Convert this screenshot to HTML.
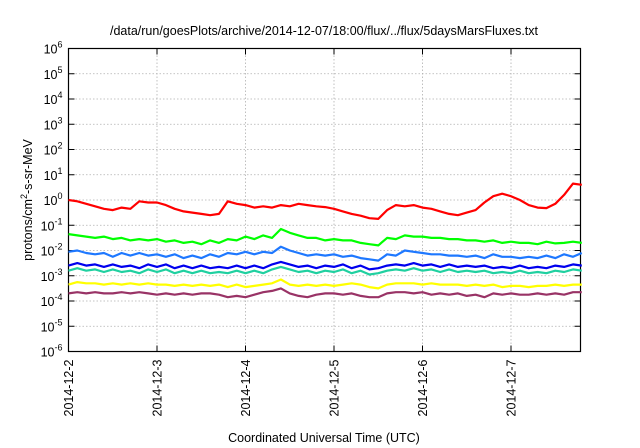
<!DOCTYPE html>
<html><head><meta charset="utf-8"><style>
html,body{margin:0;padding:0;background:#fff;width:640px;height:448px;overflow:hidden}
text{font-family:"Liberation Sans",sans-serif;fill:#000}
</style></head><body>
<svg id="chart" width="640" height="448" xmlns="http://www.w3.org/2000/svg">
<text x="324" y="35" font-size="12.5" text-anchor="middle">/data/run/goesPlots/archive/2014-12-07/18:00/flux/../flux/5daysMarsFluxes.txt</text>
<g id="grid"></g>
<g id="axes"></g>
<g id="series"></g>
<text transform="translate(32,200) rotate(-90)" font-size="12.5" text-anchor="middle">protons/cm<tspan dy="-5" font-size="9">2</tspan><tspan dy="5">-s-sr-MeV</tspan></text>
<text x="324" y="442" font-size="12.5" text-anchor="middle">Coordinated Universal Time (UTC)</text>
</svg>
<script>
const dayLabels=["2014-12-2","2014-12-3","2014-12-4","2014-12-5","2014-12-6","2014-12-7"];
const yExps=[-6,-5,-4,-3,-2,-1,0,1,2,3,4,5,6];
const sampleStep=0.1;
const red=[0,-0.05,-0.15,-0.25,-0.35,-0.4,-0.3,-0.35,-0.05,-0.1,-0.1,-0.2,-0.35,-0.45,-0.5,-0.55,-0.6,-0.55,-0.05,-0.15,-0.2,-0.3,-0.25,-0.3,-0.2,-0.25,-0.15,-0.2,-0.25,-0.28,-0.35,-0.45,-0.55,-0.62,-0.72,-0.75,-0.4,-0.2,-0.25,-0.2,-0.3,-0.35,-0.45,-0.55,-0.6,-0.5,-0.4,-0.1,0.15,0.25,0.15,0,-0.2,-0.3,-0.32,-0.15,0.2,0.65,0.6];
const green=[-1.35,-1.4,-1.45,-1.5,-1.45,-1.55,-1.5,-1.6,-1.55,-1.6,-1.55,-1.65,-1.6,-1.7,-1.65,-1.75,-1.6,-1.7,-1.55,-1.6,-1.45,-1.55,-1.4,-1.5,-1.15,-1.3,-1.4,-1.5,-1.5,-1.6,-1.55,-1.6,-1.6,-1.7,-1.75,-1.8,-1.5,-1.55,-1.4,-1.45,-1.45,-1.5,-1.5,-1.55,-1.55,-1.6,-1.6,-1.65,-1.6,-1.7,-1.65,-1.7,-1.7,-1.75,-1.65,-1.72,-1.7,-1.65,-1.7];
const blue=[-2.05,-2.0,-2.1,-2.15,-2.1,-2.25,-2.1,-2.2,-2.1,-2.2,-2.15,-2.25,-2.15,-2.3,-2.2,-2.3,-2.15,-2.25,-2.1,-2.15,-2.05,-2.15,-2.05,-2.1,-1.85,-2.0,-2.1,-2.2,-2.15,-2.2,-2.15,-2.25,-2.2,-2.3,-2.35,-2.4,-2.15,-2.2,-2.0,-2.05,-2.1,-2.15,-2.15,-2.2,-2.2,-2.25,-2.2,-2.3,-2.15,-2.25,-2.25,-2.3,-2.25,-2.3,-2.2,-2.3,-2.15,-2.25,-2.1];
const darkBlue=[-2.6,-2.5,-2.6,-2.55,-2.65,-2.55,-2.65,-2.6,-2.7,-2.55,-2.65,-2.55,-2.7,-2.6,-2.7,-2.6,-2.7,-2.65,-2.7,-2.6,-2.7,-2.6,-2.7,-2.55,-2.45,-2.55,-2.65,-2.6,-2.7,-2.6,-2.65,-2.55,-2.7,-2.6,-2.75,-2.7,-2.6,-2.55,-2.6,-2.5,-2.6,-2.55,-2.65,-2.55,-2.65,-2.6,-2.65,-2.6,-2.7,-2.65,-2.7,-2.6,-2.7,-2.65,-2.7,-2.6,-2.65,-2.55,-2.6];
const teal=[-2.8,-2.7,-2.8,-2.75,-2.85,-2.75,-2.85,-2.8,-2.9,-2.75,-2.85,-2.75,-2.9,-2.8,-2.9,-2.8,-2.9,-2.85,-2.9,-2.8,-2.9,-2.8,-2.9,-2.75,-2.65,-2.75,-2.85,-2.8,-2.9,-2.8,-2.85,-2.75,-2.9,-2.8,-2.95,-2.9,-2.8,-2.75,-2.8,-2.7,-2.8,-2.75,-2.85,-2.75,-2.85,-2.8,-2.85,-2.8,-2.9,-2.85,-2.9,-2.8,-2.9,-2.85,-2.9,-2.8,-2.85,-2.75,-2.8];
const yellow=[-3.35,-3.25,-3.3,-3.3,-3.35,-3.3,-3.35,-3.3,-3.35,-3.3,-3.35,-3.35,-3.4,-3.35,-3.4,-3.35,-3.4,-3.35,-3.45,-3.35,-3.45,-3.4,-3.35,-3.3,-3.15,-3.35,-3.4,-3.35,-3.4,-3.35,-3.4,-3.35,-3.3,-3.35,-3.45,-3.5,-3.35,-3.3,-3.3,-3.3,-3.35,-3.3,-3.35,-3.35,-3.35,-3.4,-3.35,-3.4,-3.35,-3.45,-3.4,-3.4,-3.45,-3.4,-3.4,-3.35,-3.4,-3.35,-3.35];
const purple=[-3.7,-3.65,-3.7,-3.65,-3.7,-3.7,-3.65,-3.7,-3.65,-3.7,-3.75,-3.7,-3.75,-3.7,-3.75,-3.7,-3.7,-3.75,-3.85,-3.8,-3.85,-3.75,-3.65,-3.6,-3.5,-3.7,-3.8,-3.85,-3.75,-3.7,-3.7,-3.75,-3.7,-3.8,-3.85,-3.85,-3.7,-3.65,-3.65,-3.7,-3.65,-3.75,-3.7,-3.75,-3.7,-3.8,-3.75,-3.85,-3.7,-3.75,-3.7,-3.75,-3.75,-3.7,-3.75,-3.7,-3.75,-3.65,-3.65];

const L=68.5,R=580.5,T=48.5,B=351.5,pxDay=88.5;
const NS="http://www.w3.org/2000/svg";
function xs(d){return L+d*pxDay;}
function ys(e){return B-(e-(-6))*(B-T)/12;}
function mk(tag,attrs,parent){const el=document.createElementNS(NS,tag);for(const k in attrs)el.setAttribute(k,attrs[k]);parent.appendChild(el);return el;}
const grid=document.getElementById('grid'),axes=document.getElementById('axes'),ser=document.getElementById('series');
yExps.forEach(e=>{const y=ys(e);
 if(e>-6&&e<6){const g=mk('line',{x1:L,x2:R,y1:y,y2:y,stroke:'#b0b0b0','stroke-width':0.8,'stroke-dasharray':'1.5,2'},grid);
 
 }
 const t1=mk('line',{x1:L,x2:L+6,y1:y,y2:y,stroke:'#000'},axes);
 
 
 const t2=mk('line',{x1:R-6,x2:R,y1:y,y2:y,stroke:'#000'},axes);
 
 
 const tx=mk('text',{x:L-6,y:y+5,'font-size':'12.5','text-anchor':'end'},axes);
 
 
 tx.textContent='10';const sp=mk('tspan',{dy:'-6','font-size':'9'},tx);sp.textContent=String(e);
});
dayLabels.forEach((lab,i)=>{const x=xs(i);
 if(i>0){const g=mk('line',{x1:x,x2:x,y1:T,y2:B,stroke:'#b0b0b0','stroke-width':0.8,'stroke-dasharray':'1.5,2'},grid);
 
 }
 const t1=mk('line',{x1:x,x2:x,y1:B,y2:B-6,stroke:'#000'},axes);
 
 
 const t2=mk('line',{x1:x,x2:x,y1:T,y2:T+6,stroke:'#000'},axes);
 
 
 const tx=mk('text',{transform:`translate(${x+4.5},${B+8}) rotate(-90)`,'font-size':'12.5','text-anchor':'end'},axes);
 
 
 tx.textContent=lab;
});
const fr=mk('rect',{x:L,y:T,width:R-L,height:B-T,fill:'none',stroke:'#000','stroke-width':1.2},axes);


const list=[[purple,'#993366','purple-series'],[yellow,'#ffff00','yellow-series'],[teal,'#20d0a0','teal-series'],[darkBlue,'#0000ee','dark-blue-series'],[blue,'#1e78ff','blue-series'],[green,'#00ff00','green-series'],[red,'#ff0000','red-series']];
list.forEach(([arr,c,n])=>{const pts=arr.map((v,i)=>xs(i*sampleStep).toFixed(1)+','+ys(v).toFixed(1)).join(' ');
 const p=mk('polyline',{points:pts,fill:'none',stroke:c,'stroke-width':2.2,'stroke-linejoin':'round'},ser);
 
 
});
</script>
</body></html>
